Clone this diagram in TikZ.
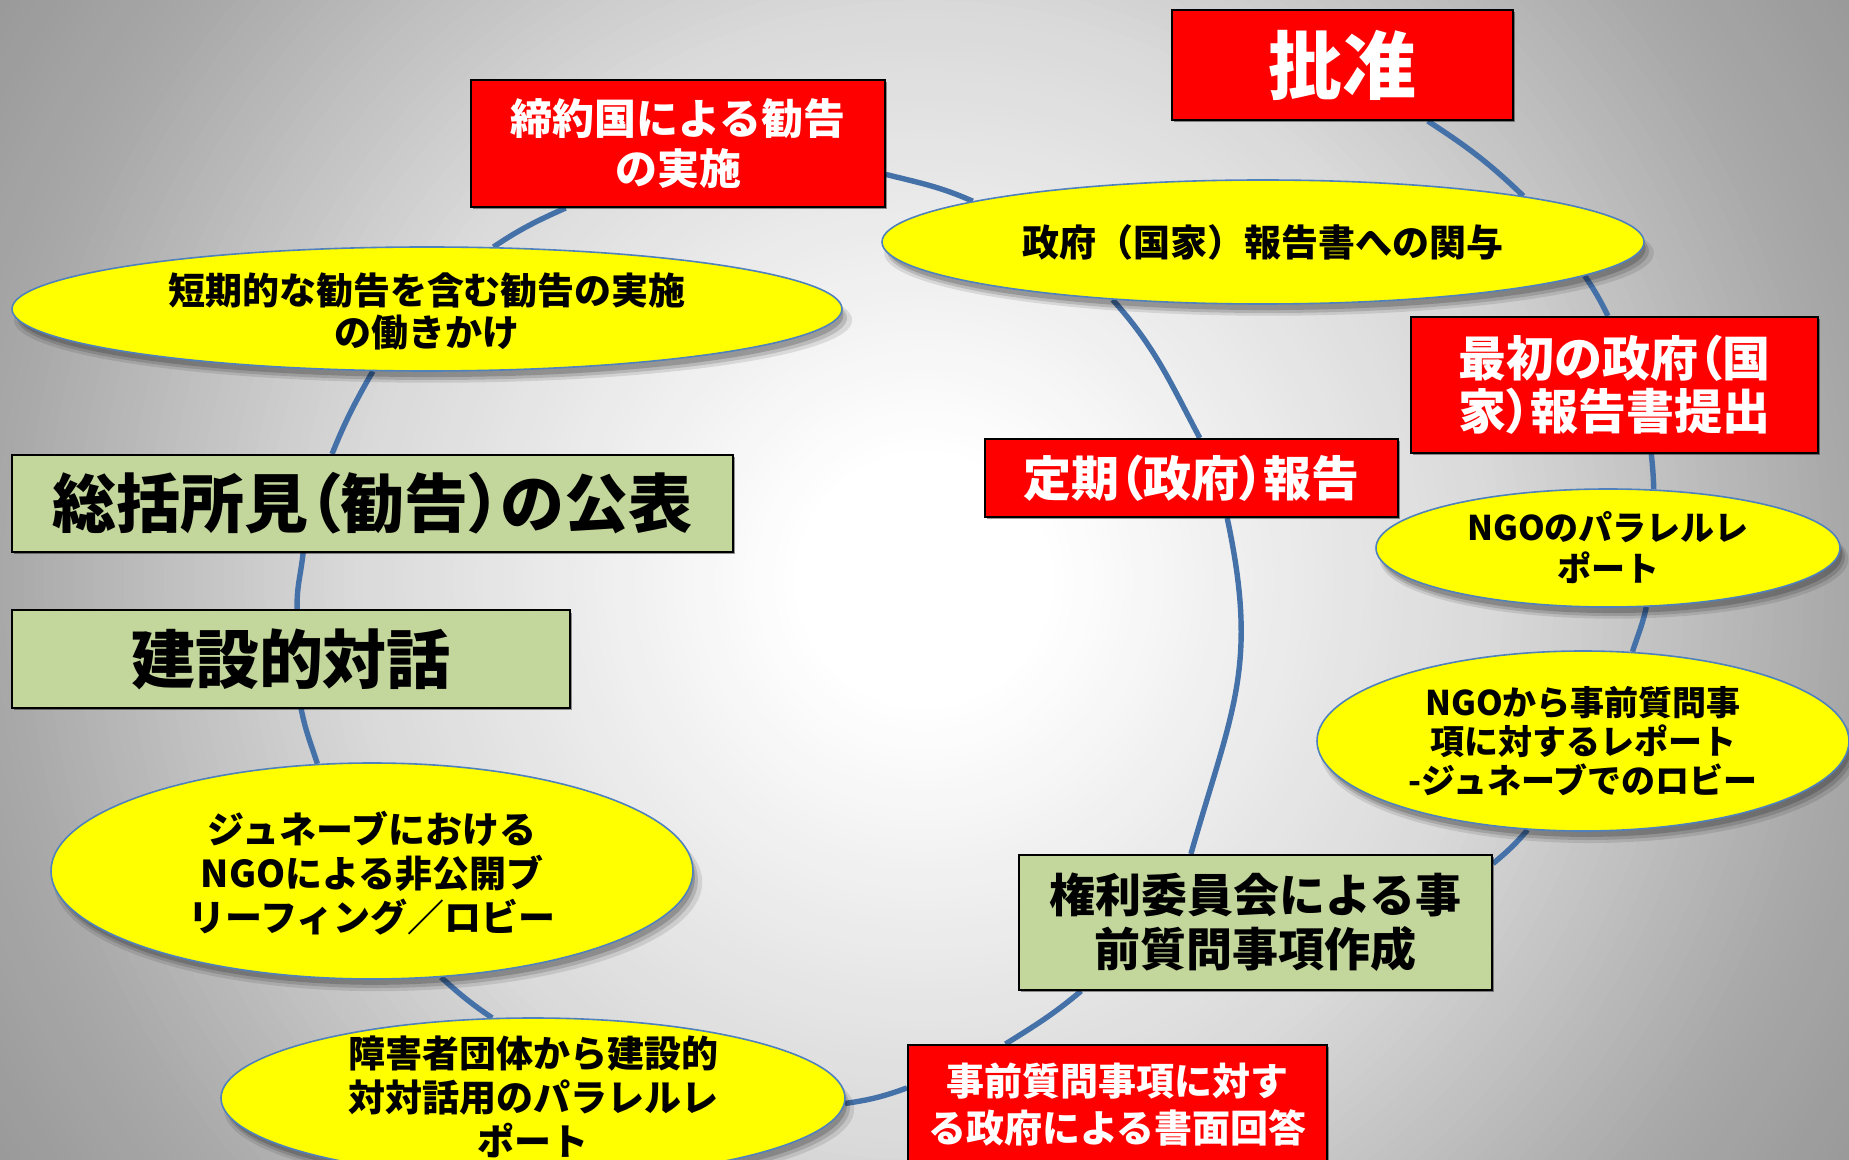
\documentclass[tikz,border=0pt]{standalone}
\usepackage{fontspec}
\usetikzlibrary{shapes.geometric,calc,shadows}
\IfFontExistsTF{Noto Sans CJK JP Black}{\setmainfont{Noto Sans CJK JP Black}}{%
  \IfFontExistsTF{Noto Sans CJK JP Bold}{\setmainfont{Noto Sans CJK JP Bold}}{\setmainfont{Noto Sans CJK JP}}}
\newcommand\propjp{\addfontfeature{RawFeature=+palt}}
\definecolor{ringc}{HTML}{4571A9}
\definecolor{redc}{HTML}{FF0000}
\definecolor{grnc}{HTML}{C3D69B}
\definecolor{yelc}{HTML}{FFFF00}
\definecolor{elb}{HTML}{4F81BD}
\pgfdeclarelayer{bg}
\pgfdeclarelayer{ringl}
\pgfsetlayers{bg,ringl,main}
\begin{document}
\begin{tikzpicture}[x=0.5pt,y=0.5pt,
  ring/.style={draw=ringc,line width=2.7pt},
  bshadow/.style={drop shadow={shadow xshift=1.2pt,shadow yshift=-1.2pt,fill=black,opacity=.4}},
  eshadow/.style={
    drop shadow={shadow xshift=3pt,shadow yshift=-5.5pt,shadow scale=1.01,fill=black,opacity=.10},
    drop shadow={shadow xshift=2.5pt,shadow yshift=-4.5pt,fill=black,opacity=.14},
    drop shadow={shadow xshift=1.8pt,shadow yshift=-3.2pt,shadow scale=0.995,fill=black,opacity=.18}},
  redbox/.style={rectangle,fill=redc,draw=black,line width=1pt,text=white,align=center,inner sep=0pt,bshadow},
  grnbox/.style={rectangle,fill=grnc,draw=black,line width=1pt,text=black,align=center,inner sep=0pt,bshadow},
  yell/.style={ellipse,fill=yelc,draw=elb,line width=0.8pt,inner sep=0pt,eshadow},
  etext/.style={align=center,inner sep=0pt,text=black},
  fs/.style 2 args={font=\fontsize{#1}{#2}\selectfont}]
\useasboundingbox (0,0) rectangle (1849,-1160);
\begin{pgfonlayer}{bg}
\begin{scope}
\clip (0,0) rectangle (1849,-1160);
\foreach \r in {1100,1090,...,0}{
  \pgfmathsetmacro\g{\r<130 ? 0 : (\r<580 ? (\r-130)/450*15 : (\r<925 ? 15+(\r-580)/345*19 : 34+(\r-925)/175*6))}
  \fill[black!\g!white] (924,-580) circle[radius=\r*0.5pt];
}
\end{scope}
\end{pgfonlayer}
\clip (0,0) rectangle (1849,-1160);
% red boxes
\node[redbox,minimum width=170.5pt,minimum height=55pt,fs={37pt}{40pt}] (pz) at (1342,-65) {批准};
\node[redbox,minimum width=207pt,minimum height=63.5pt,fs={21pt}{25pt}] (impl) at (678,-143.5) {締約国による勧告\\の実施};
\node[redbox,minimum width=203.5pt,minimum height=68pt,fs={24pt}{26.5pt}] (first) at (1614.5,-385) {\propjp 最初の政府（国\\\propjp 家）報告書提出};
\node[redbox,minimum width=206.5pt,minimum height=39pt,fs={24pt}{26pt}] (per) at (1191.5,-478) {\propjp 定期（政府）報告};
\node[redbox,minimum width=209.5pt,minimum height=60pt,fs={19pt}{23.5pt}] (resp) at (1117.5,-1105) {事前質問事項に対す\\る政府による書面回答};
% green boxes
\node[grnbox,minimum width=360.5pt,minimum height=48.5pt,fs={32pt}{34pt}] (co) at (372.5,-503.5) {\propjp 総括所見（勧告）の公表};
\node[grnbox,minimum width=279pt,minimum height=48.5pt,fs={32pt}{34pt}] (dial) at (291,-659) {建設的対話};
\node[grnbox,minimum width=236.5pt,minimum height=67.5pt,fs={23pt}{27pt}] (crpd) at (1255.5,-922.5) {権利委員会による事\\前質問事項作成};
% yellow ellipses
\node[yell,minimum width=381pt,minimum height=62pt] (gov) at (1263,-242) {};
\node[etext,fs={18.5pt}{21pt}] (govt) at (gov) {政府（国家）報告書への関与};
\node[yell,minimum width=232pt,minimum height=59pt] (par) at (1608,-548) {};
\node[etext,fs={17pt}{20.5pt}] (part) at (par) {NGOのパラレルレ\\ポート};
\node[yell,minimum width=266pt,minimum height=90pt] (lq) at (1583,-741) {};
\node[etext,fs={17pt}{19.5pt}] (lqt) at (lq) {NGOから事前質問事\\項に対するレポート\\-ジュネーブでのロビー};
\node[yell,minimum width=312pt,minimum height=80pt] (dpo) at (533,-1098) {};
\node[etext,fs={18.5pt}{22pt}] (dpot) at (533,-1097) {障害者団体から建設的\\対対話用のパラレルレ\\ポート};
\node[yell,minimum width=321pt,minimum height=108pt] (gen) at (372,-871) {};
\node[etext,fs={18.5pt}{22pt}] (gent) at (372,-873) {ジュネーブにおける\\NGOによる非公開ブ\\リーフィング／ロビー};
\node[yell,minimum width=415pt,minimum height=62pt] (short) at (427,-309) {};
\node[etext,fs={18.5pt}{21pt}] (shortt) at (427,-311) {短期的な勧告を含む勧告の実施\\の働きかけ};
% ring segments
\begin{pgfonlayer}{ringl}
\draw[ring] ($(pz.south west)!0.75!(pz.south east)$) to[out=-33,in=136] (gov.10);
\draw[ring] (gov.-6) to[out=-56,in=116] ($(first.north west)!0.484!(first.north east)$);
\draw[ring] ($(first.south west)!0.59!(first.south east)$) to[out=-84,in=92] (par.52);
\draw[ring] (par.-57.5) to[out=-102,in=72] (lq.61);
\draw[ring] (lq.-122) to[out=-130,in=40] ($(crpd.north east)!0.07!(crpd.south east)$);
\draw[ring] ($(crpd.south west)!0.133!(crpd.south east)$) to[out=-140,in=32] ($(resp.north west)!0.234!(resp.north east)$);
\draw[ring] ($(resp.north west)!0.36!(resp.south west)$) to[out=-160,in=8] (dpo.-1);
\draw[ring] (dpo.117.4) to[out=146,in=-42] (gen.-57.7);
\draw[ring] (gen.117.8) to[out=108,in=-79] ($(dial.south west)!0.518!(dial.south east)$);
\draw[ring] ($(dial.north west)!0.511!(dial.north east)$) to[out=92,in=-96] ($(co.south west)!0.404!(co.south east)$);
\draw[ring] ($(co.north west)!0.444!(co.north east)$) to[out=68,in=-120] (short.-131);
\draw[ring] (short.43) to[out=34,in=-156] ($(impl.south west)!0.23!(impl.south east)$);
\draw[ring] ($(impl.north east)!0.74!(impl.south east)$) to[out=-14,in=156] (gov.172);
\draw[ring] (gov.-159) to[out=-48,in=118] ($(per.north west)!0.52!(per.north east)$);
\draw[ring] ($(per.south west)!0.586!(per.south east)$) to[out=-78,in=74,looseness=1.15] ($(crpd.north west)!0.364!(crpd.north east)$);
\end{pgfonlayer}
\end{tikzpicture}
\end{document}
